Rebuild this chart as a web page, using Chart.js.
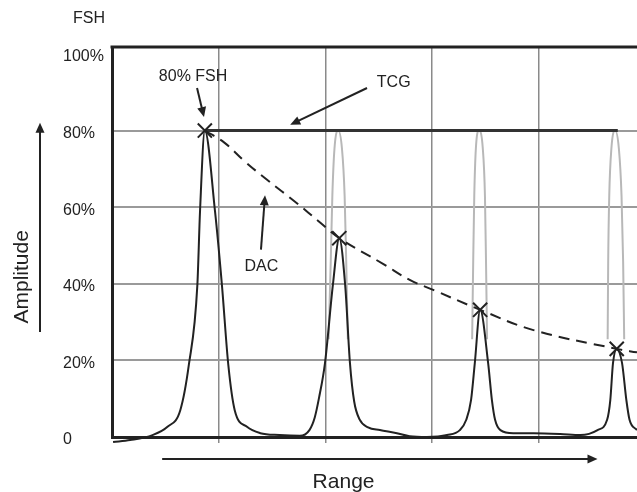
<!DOCTYPE html>
<html>
<head>
<meta charset="utf-8">
<script src="https://cdn.jsdelivr.net/npm/chart.js@4.4.0/dist/chart.umd.min.js"></script>
<style>
  html, body { margin: 0; padding: 0; background: #fff; }
  #wrap { width: 637px; height: 492px; }
</style>
</head>
<body>
<div id="wrap"><canvas id="plot"></canvas></div>
<script>
// range runs 0..49.2 (picture is cut off on the right), amplitude in % FSH
// the frame top sits a little above the 100% mark in the original drawing
const RANGE_MAX = 49.2;
const AMP_MAX = 101.8;
const amplitudeTicks = [0, 20, 40, 60, 80, 100];

// received echo trace (black)
const echoX = [0.1, 1.7, 3.8, 5.2, 6.4, 7.2, 8.0, 8.25, 8.7, 9.65, 10.3, 10.9, 11.5, 12.65, 13.9, 15.7,
  17.6, 18.5, 19.0, 19.4, 19.96, 20.7, 21.3, 21.85, 22.3, 22.7, 23.2, 24.0, 25.1, 26.7, 27.9, 29.5,
  31.4, 32.6, 33.2, 33.65, 34.0, 34.5, 35.25, 35.6, 35.9, 36.4, 37.6, 39.5, 42.0, 43.9,
  45.5, 46.4, 46.7, 46.95, 47.3, 47.8, 48.2, 48.5, 49.2];
const echoY = [-1.3, -0.8, 0.5, 2.65, 7.0, 18.8, 39.7, 59, 80, 59, 39.7, 18.8, 7.0, 2.65, 1.0, 0.5,
  0.3, 1.8, 5.1, 10.2, 19.3, 39.7, 51.9, 39.7, 19.3, 9.2, 4.6, 2.5, 1.8, 1.0, 0.2, 0,
  0.5, 1.8, 4.5, 9.7, 19.3, 33.2, 19.3, 9.7, 4.5, 1.8, 1.0, 1.0, 0.8, 0.5,
  1.8, 4.5, 9.7, 19.3, 23.0, 19.3, 9.7, 4.5, 1.8];

// the same echoes with TCG gain applied (grey), null separates the peaks
const tcgX = [20.3, 20.5, 20.65, 20.85, 21.2, 21.55, 21.8, 21.95, 22.1, 22.1,
  33.75, 33.85, 33.95, 34.1, 34.4, 34.75, 34.95, 35.05, 35.15, 35.15,
  46.45, 46.5, 46.6, 46.8, 47.15, 47.5, 47.75, 47.9, 48.0];
const tcgY = [25.5, 45.8, 63, 75.3, 80, 75.3, 63, 45.8, 25.5, null,
  25.5, 45.8, 63, 75.3, 80, 75.3, 63, 45.8, 25.5, null,
  25.5, 45.8, 63, 75.3, 80, 75.3, 63, 45.8, 25.5];

// TCG reference level
const tcgLevelX = [8.7, 47.4];
const tcgLevelY = [80, 80];

// distance amplitude correction curve
const dacX = [8.7, 10.5, 12.5, 14.5, 17.3, 19.5, 21.3, 25.4, 27.9, 30.1, 34.5, 39.5, 47.3, 49.2];
const dacY = [80, 76.9, 71.8, 67.2, 61.1, 56, 51.9, 45.2, 41, 38.4, 33.2, 27.9, 23.0, 22.1];

// peak marks
const peakX = [8.7, 21.3, 34.5, 47.3];
const peakY = [80, 51.9, 33.2, 23.0];

const callouts = [
  { text: '80% FSH', at: [7.6, 94], from: [7.97, 91.1], to: [8.62, 83.5] },
  { text: 'TCG', at: [26.4, 92.6], from: [23.9, 91.1], to: [16.7, 81.5] },
  { text: 'DAC', at: [14.0, 44.4], from: [13.96, 48.9], to: [14.34, 63.1] }
];

const FONT = '"Liberation Sans", Arial, sans-serif';
const INK = '#222';

function pts(xs, ys) {
  return xs.map((x, i) => ({ x: x, y: ys[i] }));
}

function arrow(ctx, x1, y1, x2, y2) {
  const a = Math.atan2(y2 - y1, x2 - x1);
  const len = 10, half = 4.5;
  ctx.beginPath();
  ctx.moveTo(x1, y1);
  ctx.lineTo(x2 - Math.cos(a) * len * 0.6, y2 - Math.sin(a) * len * 0.6);
  ctx.stroke();
  ctx.beginPath();
  ctx.moveTo(x2, y2);
  ctx.lineTo(x2 - Math.cos(a) * len + Math.sin(a) * half, y2 - Math.sin(a) * len - Math.cos(a) * half);
  ctx.lineTo(x2 - Math.cos(a) * len - Math.sin(a) * half, y2 - Math.sin(a) * len + Math.cos(a) * half);
  ctx.closePath();
  ctx.fill();
}

const labels = {
  id: 'labels',
  afterDatasetsDraw(chart) {
    const ctx = chart.ctx;
    const area = chart.chartArea;
    const xs = chart.scales.x, ys = chart.scales.y;
    ctx.save();
    ctx.strokeStyle = INK;
    ctx.fillStyle = INK;

    // top frame line
    ctx.lineWidth = 3;
    ctx.beginPath();
    ctx.moveTo(area.left - 1.5, area.top);
    ctx.lineTo(area.right, area.top);
    ctx.stroke();

    ctx.lineWidth = 2;
    ctx.textAlign = 'center';
    ctx.textBaseline = 'middle';
    ctx.font = '16px ' + FONT;
    callouts.forEach(c => {
      ctx.fillText(c.text, xs.getPixelForValue(c.at[0]), ys.getPixelForValue(c.at[1]));
      arrow(ctx, xs.getPixelForValue(c.from[0]), ys.getPixelForValue(c.from[1]),
        xs.getPixelForValue(c.to[0]), ys.getPixelForValue(c.to[1]));
    });

    ctx.fillText('FSH', area.left - 23, area.top - 28);

    // amplitude axis label and arrow
    ctx.font = '21px ' + FONT;
    ctx.save();
    ctx.translate(22, ys.getPixelForValue(41.8));
    ctx.rotate(-Math.PI / 2);
    ctx.fillText('Amplitude', 0, 0);
    ctx.restore();
    const ax = area.left - 72;
    arrow(ctx, ax, ys.getPixelForValue(27.4), ax, ys.getPixelForValue(82));

    // range axis label and arrow
    ctx.fillText('Range', xs.getPixelForValue(21.7), area.bottom + 45);
    const ay = area.bottom + 22;
    arrow(ctx, xs.getPixelForValue(4.7), ay, xs.getPixelForValue(45.5), ay);
    ctx.restore();
  }
};

new Chart(document.getElementById('plot'), {
  type: 'scatter',
  data: {
    datasets: [
      {
        data: pts(peakX, peakY),
        showLine: false,
        pointStyle: 'crossRot',
        pointRadius: 10,
        pointBorderWidth: 2,
        pointBorderColor: INK
      },
      {
        data: pts(echoX, echoY),
        showLine: true,
        borderColor: INK,
        borderWidth: 2,
        pointRadius: 0,
        cubicInterpolationMode: 'monotone',
        clip: 10
      },
      {
        data: pts(dacX, dacY),
        showLine: true,
        borderColor: INK,
        borderWidth: 2,
        borderDash: [11, 7],
        pointRadius: 0,
        tension: 0.4
      },
      {
        data: pts(tcgLevelX, tcgLevelY),
        showLine: true,
        borderColor: '#333',
        borderWidth: 3,
        pointRadius: 0
      },
      {
        data: pts(tcgX, tcgY),
        showLine: true,
        spanGaps: false,
        borderColor: '#b8b8b8',
        borderWidth: 2,
        pointRadius: 0,
        cubicInterpolationMode: 'monotone'
      }
    ]
  },
  options: {
    responsive: true,
    maintainAspectRatio: false,
    animation: false,
    layout: { autoPadding: false, padding: { top: 47, left: 63, right: 0, bottom: 0 } },
    plugins: { legend: { display: false }, tooltip: { enabled: false } },
    scales: {
      x: {
        type: 'linear',
        min: 0,
        max: RANGE_MAX,
        afterFit: s => { s.height = 55; },
        ticks: { display: false, stepSize: 10 },
        grid: {
          color: c => (c.tick.value > 0 && c.tick.value % 10 === 0) ? '#8a8a8a' : 'rgba(0,0,0,0)',
          lineWidth: 1.5,
          drawTicks: true,
          tickLength: 6
        },
        border: { display: true, color: INK, width: 3 }
      },
      y: {
        min: 0,
        max: AMP_MAX,
        afterFit: s => { s.width = 49; },
        afterBuildTicks: s => { s.ticks = amplitudeTicks.map(v => ({ value: v })); },
        ticks: {
          crossAlign: 'far',
          labelOffset: 3,
          color: INK,
          font: { family: FONT, size: 16 },
          callback: v => v === 0 ? '0' : v + '%'
        },
        grid: {
          color: c => (c.tick.value > 0 && c.tick.value < 100) ? '#9a9a9a' : 'rgba(0,0,0,0)',
          lineWidth: 2,
          drawTicks: false
        },
        border: { color: INK, width: 3 }
      }
    }
  },
  plugins: [labels]
});
</script>
</body>
</html>
